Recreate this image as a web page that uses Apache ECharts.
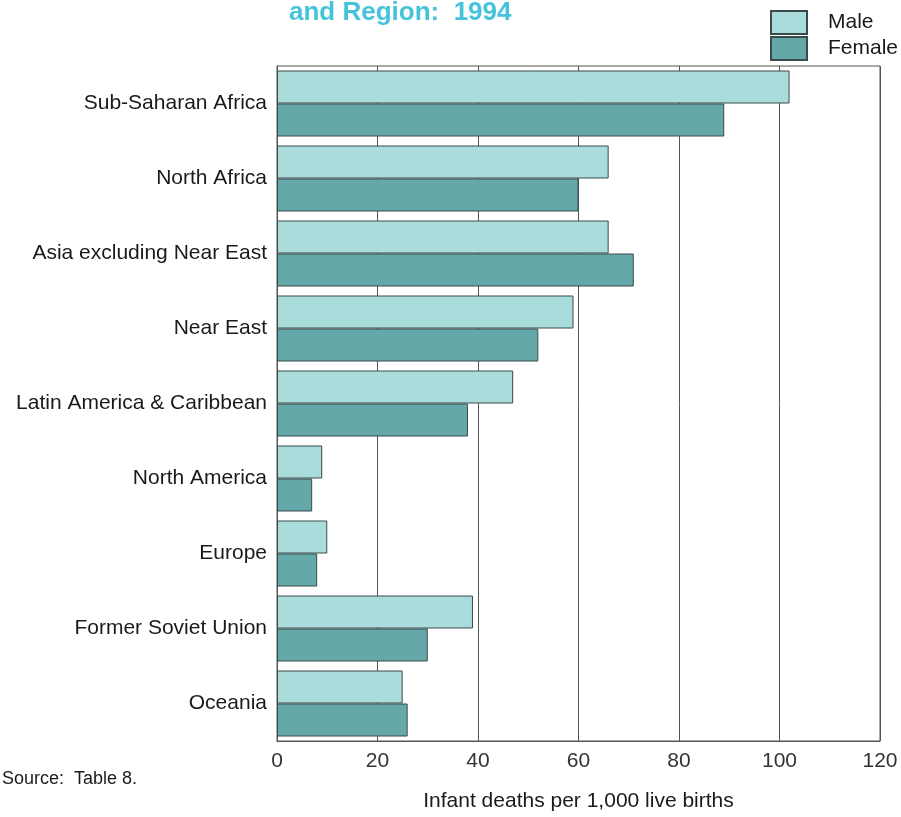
<!DOCTYPE html>
<html>
<head>
<meta charset="utf-8">
<script src="https://cdn.jsdelivr.net/npm/echarts@6/dist/echarts.min.js"></script>
<style>
html,body{margin:0;padding:0;background:#fff;}
#chart{width:901px;height:817px;}
</style>
</head>
<body>
<div id="chart"></div>
<script>
const categories = ["Sub-Saharan Africa","North Africa","Asia excluding Near East","Near East","Latin America & Caribbean","North America","Europe","Former Soviet Union","Oceania"];
const maleValues = [102, 66, 66, 59, 47, 9, 10, 39, 25];
const femaleValues = [89, 60, 71, 52, 38, 7, 8, 30, 26];
const xTicks = [0, 20, 40, 60, 80, 100, 120];

const chart = echarts.init(document.getElementById('chart'), null, {renderer:'canvas'});
const font = "'Liberation Sans', Arial, Helvetica, sans-serif";
chart.setOption({
  backgroundColor:'#ffffff',
  animation:false,
  textStyle:{fontFamily:font},
  title:{
    text:'and Region:  1994',
    left:289, top:0, padding:0,
    textStyle:{color:'#45c3da', fontSize:26, fontWeight:'bold', fontFamily:font}
  },
  legend:{
    orient:'vertical',
    left:770, top:10, padding:0,
    itemWidth:36, itemHeight:23, itemGap:1,
    icon:'rect',
    textStyle:{fontSize:21, color:'#1a1a1a', padding:[0,0,0,16]},
    data:['Male','Female']
  },
  graphic:[
    {type:'text', left:2, top:770, style:{text:'Source:  Table 8.', fontSize:18, fill:'#1a1a1a', fontFamily:font}}
  ],
  grid:{left:277, right:21, top:66, bottom:72, show:true, borderColor:'#555', borderWidth:1},
  xAxis:{
    type:'value', min:0, max:120, interval:20,
    name:'Infant deaths per 1,000 live births',
    nameLocation:'middle', nameGap:50,
    nameTextStyle:{fontSize:21, color:'#1a1a1a'},
    axisLine:{show:true, lineStyle:{color:'#555'}},
    axisTick:{show:false},
    axisLabel:{fontSize:21, color:'#333', margin:10},
    splitLine:{show:true, lineStyle:{color:'#555', width:1}}
  },
  yAxis:{
    type:'category', data:categories, inverse:true,
    axisLine:{show:true, lineStyle:{color:'#555'}},
    axisTick:{show:false},
    axisLabel:{fontSize:21, color:'#1a1a1a', margin:10}
  },
  series:[
    {name:'Male', type:'bar', data:maleValues, barGap:'0%', barCategoryGap:'12%',
     itemStyle:{color:'#aadcdc', borderColor:'#3a4a4a', borderWidth:1}},
    {name:'Female', type:'bar', data:femaleValues,
     itemStyle:{color:'#65a8aa', borderColor:'#3a4a4a', borderWidth:1}}
  ]
});
</script>
</body>
</html>
